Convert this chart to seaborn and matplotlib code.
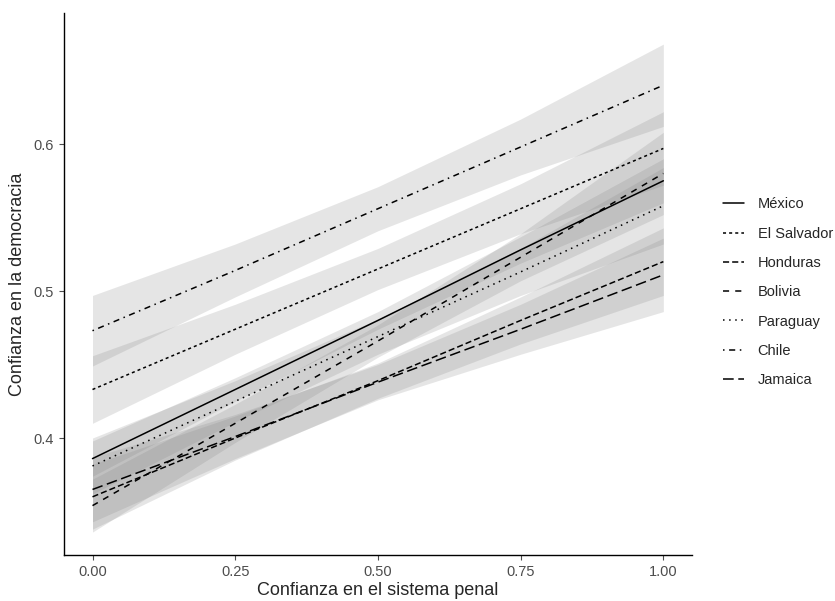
import numpy as np
import pandas as pd
import matplotlib
matplotlib.use('Agg')
import matplotlib.pyplot as plt
import seaborn as sns

sns.set_style('ticks')
plt.rcParams['font.family'] = ['Liberation Sans', 'DejaVu Sans']

# predicted values and bands
x_vals = [0.0, 0.25, 0.5, 0.75, 1.0]
countries = ['México', 'El Salvador', 'Honduras', 'Bolivia', 'Paraguay', 'Chile', 'Jamaica']
fit_mexico = [0.386, 0.433, 0.480, 0.528, 0.575]
fit_salvador = [0.433, 0.474, 0.515, 0.556, 0.597]
fit_honduras = [0.360, 0.400, 0.439, 0.480, 0.520]
fit_bolivia = [0.354, 0.410, 0.466, 0.523, 0.580]
fit_paraguay = [0.381, 0.425, 0.469, 0.513, 0.558]
fit_chile = [0.473, 0.514, 0.556, 0.598, 0.640]
fit_jamaica = [0.365, 0.401, 0.438, 0.474, 0.511]

lo_mexico = [0.374, 0.425, 0.474, 0.519, 0.560]
hi_mexico = [0.398, 0.441, 0.486, 0.537, 0.590]
lo_salvador = [0.410, 0.457, 0.501, 0.539, 0.572]
hi_salvador = [0.456, 0.491, 0.529, 0.573, 0.622]
lo_honduras = [0.338, 0.385, 0.427, 0.464, 0.497]
hi_honduras = [0.382, 0.415, 0.451, 0.496, 0.543]
lo_bolivia = [0.336, 0.397, 0.455, 0.507, 0.552]
hi_bolivia = [0.372, 0.423, 0.477, 0.539, 0.608]
lo_paraguay = [0.362, 0.411, 0.457, 0.497, 0.532]
hi_paraguay = [0.400, 0.439, 0.481, 0.529, 0.584]
lo_chile = [0.449, 0.496, 0.541, 0.579, 0.612]
hi_chile = [0.497, 0.532, 0.571, 0.617, 0.668]
lo_jamaica = [0.343, 0.386, 0.426, 0.457, 0.486]
hi_jamaica = [0.387, 0.416, 0.450, 0.491, 0.536]

fits = [fit_mexico, fit_salvador, fit_honduras, fit_bolivia, fit_paraguay, fit_chile, fit_jamaica]
lows = [lo_mexico, lo_salvador, lo_honduras, lo_bolivia, lo_paraguay, lo_chile, lo_jamaica]
highs = [hi_mexico, hi_salvador, hi_honduras, hi_bolivia, hi_paraguay, hi_chile, hi_jamaica]

rows = []
for c, f, lo, hi in zip(countries, fits, lows, highs):
    for xv, fv, lv, hv in zip(x_vals, f, lo, hi):
        rows.append({'x': xv, 'y': fv, 'lo': lv, 'hi': hv, 'País': c})
df = pd.DataFrame(rows)

# ggplot linetypes: solid, 22, 42, 44, 13, 1343, 73
dashes = {
    'México': '',
    'El Salvador': (2, 2),
    'Honduras': (4, 2),
    'Bolivia': (4, 4),
    'Paraguay': (1, 3),
    'Chile': (1, 3, 4, 3),
    'Jamaica': (7, 3),
}

fig = plt.figure(figsize=(8.35, 6.01), dpi=100)
ax = fig.add_axes([0.0766, 0.0765, 0.752, 0.9015])

for c in countries:
    sub = df[df['País'] == c]
    ax.fill_between(sub['x'], sub['lo'], sub['hi'], color='0.5', alpha=0.2, linewidth=0)

sns.lineplot(data=df, x='x', y='y', style='País', style_order=countries,
             dashes=dashes, color='black', linewidth=1.1, ax=ax)

ax.set_xlim(-0.05, 1.05)
ax.set_ylim(0.3204, 0.689)
ax.set_xticks([0, 0.25, 0.5, 0.75, 1.0])
ax.set_xticklabels(['0.00', '0.25', '0.50', '0.75', '1.00'])
ax.set_yticks([0.4, 0.5, 0.6])
ax.set_yticklabels(['0.4', '0.5', '0.6'])
ax.tick_params(labelsize=10.5, colors='#4D4D4D', length=3.5, width=0.8)
for lab in ax.get_xticklabels() + ax.get_yticklabels():
    lab.set_color('#4D4D4D')
sns.despine(ax=ax)
for s in ['left', 'bottom']:
    ax.spines[s].set_color('black')
    ax.spines[s].set_linewidth(1.0)

ax.set_xlabel('Confianza en el sistema penal', fontsize=13, labelpad=2)
ax.set_ylabel('Confianza en la democracia', fontsize=13, labelpad=6)

leg = ax.legend(loc='center left', bbox_to_anchor=(1.0, 0.485), frameon=False,
                fontsize=10.5, handlelength=1.5, handletextpad=0.9,
                labelspacing=1.05, title=None, borderaxespad=1.7)
for line in leg.get_lines():
    line.set_linewidth(1.1)

fig.savefig('out.png', dpi=100)
